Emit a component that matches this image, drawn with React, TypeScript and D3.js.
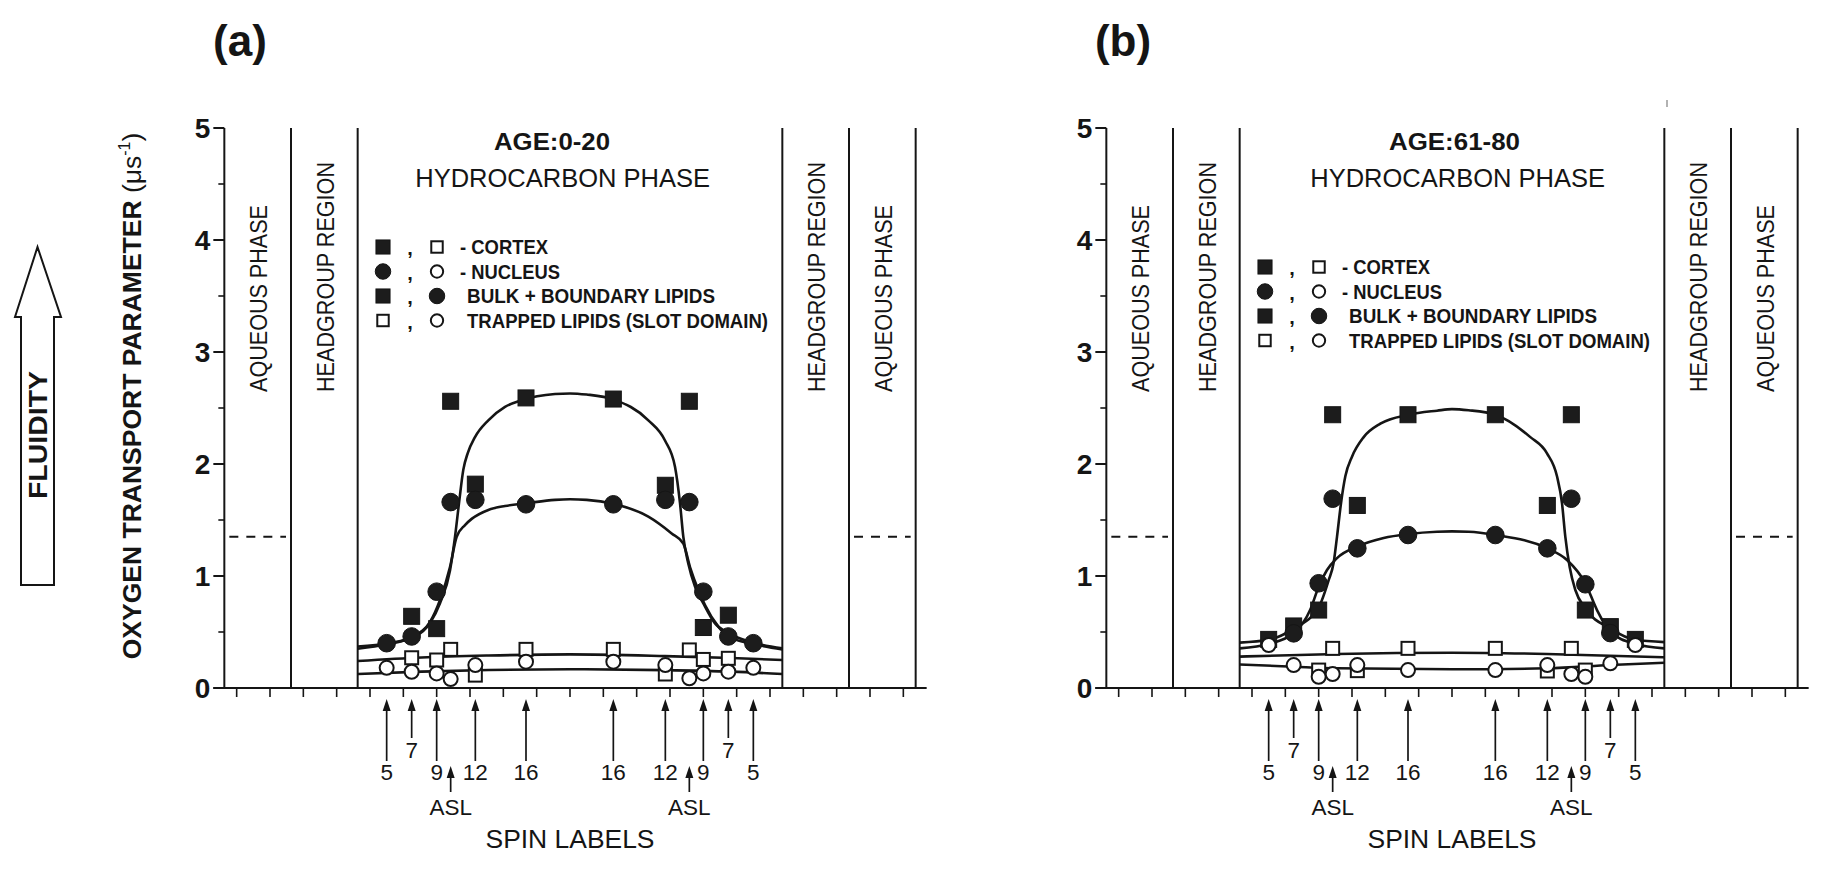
import React from 'react';
import * as d3 from 'd3';

const FONT = '"Liberation Sans", Arial, Helvetica, sans-serif';
const INK = '#151515';

// ---------- data ----------
const spinLabels = ['5', '7', '9', 'ASL', '12', '16', '16', '12', 'ASL', '9', '7', '5'];
const spinPos = [5.0, 5.75, 6.5, 6.92, 7.66, 9.18, 11.8, 13.36, 14.08, 14.5, 15.25, 16.0];

const boundaries = [0.13, 2.13, 4.13, 16.87, 18.87, 20.87];
const regionText = ['AQUEOUS PHASE', 'HEADGROUP REGION', '', 'HEADGROUP REGION', 'AQUEOUS PHASE'];
const waterLevel = 1.35;

const yMajor = [0, 1, 2, 3, 4, 5];
const yMinor = [0.5, 1.5, 2.5, 3.5, 4.5];

const legendLabels = ['- CORTEX', '- NUCLEUS', 'BULK + BOUNDARY LIPIDS', 'TRAPPED LIPIDS (SLOT DOMAIN)'];

// panel (a) AGE 0-20
const cortexBulkA = [null, 0.64, 0.53, 2.56, 1.82, 2.59, 2.58, 1.81, 2.56, 0.54, 0.65, null];
const nucleusBulkA = [0.40, 0.46, 0.86, 1.66, 1.68, 1.64, 1.64, 1.68, 1.66, 0.86, 0.46, 0.40];
const cortexTrappedA = [null, 0.27, 0.25, 0.345, 0.115, 0.345, 0.345, 0.125, 0.34, 0.255, 0.265, null];
const nucleusTrappedA = [0.18, 0.145, 0.13, 0.08, 0.205, 0.235, 0.235, 0.205, 0.087, 0.13, 0.146, 0.18];

const cortexCurveA: [number, number][] = [[4.13, 0.37], [5.05, 0.40], [5.85, 0.46], [6.3, 0.58], [6.6, 0.756], [6.9, 1.05], [7.05, 1.35], [7.17, 1.65], [7.3, 1.95], [7.43, 2.095], [7.65, 2.24], [8.05, 2.39], [8.55, 2.51], [9.05, 2.57], [10.05, 2.625], [10.5, 2.63], [11.0, 2.62], [11.8, 2.577], [12.85, 2.39], [13.35, 2.21], [13.65, 1.976], [13.8, 1.65], [13.9, 1.35], [14.05, 1.11], [14.25, 0.905], [14.5, 0.756], [14.85, 0.577], [15.25, 0.49], [16.0, 0.405], [16.87, 0.354]];
const nucleusCurveA: [number, number][] = [[4.13, 0.35], [5.0, 0.39], [5.75, 0.455], [6.3, 0.59], [6.6, 0.786], [6.9, 1.08], [7.1, 1.35], [7.35, 1.455], [7.55, 1.51], [8.05, 1.59], [8.55, 1.625], [9.2, 1.65], [10.05, 1.68], [10.5, 1.685], [11.0, 1.68], [11.8, 1.645], [12.85, 1.53], [13.55, 1.38], [13.9, 1.29], [14.1, 1.08], [14.35, 0.875], [14.55, 0.74], [14.95, 0.548], [15.25, 0.458], [16.0, 0.393], [16.87, 0.345]];
const cortexTrappedCurveA: [number, number][] = [[4.13, 0.241], [6.05, 0.273], [8.05, 0.29], [10.5, 0.30], [13.35, 0.285], [15.35, 0.268], [16.87, 0.25]];
const nucleusTrappedCurveA: [number, number][] = [[4.13, 0.125], [6.05, 0.146], [8.05, 0.161], [10.5, 0.167], [13.35, 0.16], [15.35, 0.146], [16.87, 0.125]];

// panel (b) AGE 61-80
const cortexBulkB = [0.434, 0.554, 0.696, 2.44, 1.63, 2.44, 2.44, 1.63, 2.44, 0.696, 0.548, 0.434];
const nucleusBulkB = [null, 0.488, 0.935, 1.69, 1.247, 1.366, 1.366, 1.247, 1.69, 0.926, 0.49, null];
const cortexTrappedB = [null, null, 0.16, 0.354, 0.155, 0.354, 0.354, 0.152, 0.354, 0.16, null, null];
const nucleusTrappedB = [0.384, 0.205, 0.10, 0.125, 0.205, 0.16, 0.16, 0.205, 0.125, 0.10, 0.22, 0.384];

const cortexCurveB: [number, number][] = [[4.13, 0.405], [5.0, 0.43], [5.75, 0.53], [6.5, 0.72], [6.8, 0.963], [6.95, 1.12], [7.05, 1.35], [7.17, 1.65], [7.3, 1.89], [7.5, 2.065], [7.85, 2.24], [8.35, 2.36], [9.2, 2.44], [10.05, 2.476], [10.5, 2.49], [11.0, 2.48], [11.8, 2.44], [12.85, 2.24], [13.35, 2.095], [13.65, 1.89], [13.8, 1.65], [13.9, 1.35], [14.03, 1.08], [14.2, 0.875], [14.5, 0.71], [15.25, 0.53], [16.0, 0.43], [16.87, 0.41]];
const nucleusCurveB: [number, number][] = [[4.13, 0.354], [5.0, 0.393], [5.75, 0.488], [6.25, 0.70], [6.5, 0.905], [6.75, 1.054], [7.05, 1.16], [7.67, 1.265], [8.45, 1.34], [9.2, 1.375], [10.05, 1.395], [10.5, 1.398], [11.0, 1.395], [11.8, 1.366], [13.35, 1.247], [13.95, 1.143], [14.5, 0.935], [14.85, 0.696], [15.25, 0.503], [16.0, 0.393], [16.87, 0.354]];
const cortexTrappedCurveB: [number, number][] = [[4.13, 0.28], [7.05, 0.304], [10.5, 0.315], [13.35, 0.304], [16.87, 0.274]];
const nucleusTrappedCurveB: [number, number][] = [[4.13, 0.21], [5.75, 0.19], [7.05, 0.176], [10.5, 0.167], [13.35, 0.176], [15.25, 0.205], [16.87, 0.226]];

// ---------- helpers ----------
type Num = number | null;

function Sq({ cx, cy, s, filled }: { cx: number; cy: number; s: number; filled: boolean }) {
  return (
    <rect x={cx - s / 2} y={cy - s / 2} width={s} height={s}
      fill={filled ? '#1c1c1c' : '#fff'} stroke={INK} strokeWidth={filled ? 1 : 2} />
  );
}
function Circ({ cx, cy, r, filled }: { cx: number; cy: number; r: number; filled: boolean }) {
  return <circle cx={cx} cy={cy} r={r} fill={filled ? '#1c1c1c' : '#fff'} stroke={INK} strokeWidth={filled ? 1 : 2} />;
}

interface PanelProps {
  x0: number;
  tag: string;
  tagX: number;
  age: string;
  ageEnd: number;
  ageLen: number;
  hydroEnd: number;
  legendTop: number;
  cortexBulk: Num[];
  nucleusBulk: Num[];
  cortexTrapped: Num[];
  nucleusTrapped: Num[];
  curves: [number, number][][];
}

function Panel(p: PanelProps) {
  const x = d3.scaleLinear().domain([0, 21]).range([p.x0, p.x0 + 700]);
  const y = d3.scaleLinear().domain([0, 5]).range([688, 128]);
  const line = d3.line<[number, number]>().x(d => x(d[0])).y(d => y(d[1])).curve(d3.curveMonotoneX);
  const xTicks = d3.range(0.5, 21, 1);
  const axX = x(boundaries[0]);

  const legendRows = [0, 1, 2, 3].map(i => p.legendTop + i * 24.5);
  const markerFor = (kind: string, cx: number, cy: number, legend = false) => {
    const k = legend ? 0.88 : 1;
    if (kind === 'fs') return <Sq cx={cx} cy={cy} s={16 * k} filled />;
    if (kind === 'fc') return <Circ cx={cx} cy={cy} r={8.8 * k} filled />;
    if (kind === 'os') return <Sq cx={cx} cy={cy} s={13 * k} filled={false} />;
    return <Circ cx={cx} cy={cy} r={7 * k} filled={false} />;
  };
  const legendKinds = [['fs', 'os'], ['fc', 'oc'], ['fs', 'fc'], ['os', 'oc']];
  const legendTextX = [240, 240, 247, 247];
  const legendLen = [88, 100, 248, 301];

  const series: [string, Num[]][] = [
    ['fs', p.cortexBulk],
    ['fc', p.nucleusBulk],
    ['os', p.cortexTrapped],
    ['oc', p.nucleusTrapped],
  ];

  return (
    <g>
      {/* title */}
      <text x={p.tagX} y={56} textAnchor="middle" fontSize={44} fontWeight="bold" fill={INK}>{p.tag}</text>

      {/* region boundary lines */}
      {boundaries.slice(1).map((b, i) => (
        <line key={'b' + i} x1={x(b)} x2={x(b)} y1={y(0)} y2={y(5)} stroke={INK} strokeWidth={2} />
      ))}

      {/* y axis */}
      <line x1={axX} x2={axX} y1={y(0)} y2={y(5)} stroke={INK} strokeWidth={2} />
      {yMajor.map(v => (
        <g key={'ym' + v}>
          <line x1={axX - 11} x2={axX} y1={y(v)} y2={y(v)} stroke={INK} strokeWidth={2} />
          <text x={axX - 14} y={y(v)} dy="0.36em" textAnchor="end" fontSize={28} fontWeight="bold" fill={INK}>{v}</text>
        </g>
      ))}
      {yMinor.map(v => (
        <line key={'yn' + v} x1={axX - 6} x2={axX} y1={y(v)} y2={y(v)} stroke={INK} strokeWidth={1.6} />
      ))}

      {/* x axis */}
      <line x1={axX - 11} x2={x(21.2)} y1={y(0)} y2={y(0)} stroke={INK} strokeWidth={2} />
      {xTicks.map(t => (
        <line key={'xt' + t} x1={x(t)} x2={x(t)} y1={y(0)} y2={y(0) + 9} stroke={INK} strokeWidth={1.6} />
      ))}

      {/* dashed aqueous level */}
      {[[0, 1], [4, 5]].map(([a, b], i) => (
        <line key={'d' + i} x1={x(boundaries[a]) + 5} x2={x(boundaries[b]) - 5} y1={y(waterLevel)} y2={y(waterLevel)}
          stroke={INK} strokeWidth={2} strokeDasharray="9,8" />
      ))}

      {/* region labels */}
      {regionText.map((t, i) => {
        if (!t) return null;
        const cx = (x(boundaries[i]) + x(boundaries[i + 1])) / 2 + 9.5;
        return (
          <text key={'r' + i} transform={`translate(${cx},392) rotate(-90)`} textAnchor="start"
            fontSize={24} fill={INK} textLength={t.startsWith('AQ') ? 187 : 230} lengthAdjust="spacingAndGlyphs">{t}</text>
        );
      })}

      {/* hydrocarbon titles */}
      <text x={p.ageEnd} y={150} textAnchor="end" fontSize={24.5} fontWeight="bold" fill={INK}
        textLength={p.ageLen} lengthAdjust="spacingAndGlyphs">{p.age}</text>
      <text x={p.hydroEnd} y={187} textAnchor="end" fontSize={25.5} fill={INK}>HYDROCARBON PHASE</text>

      {/* legend */}
      {legendRows.map((ry, i) => (
        <g key={'lg' + i}>
          {markerFor(legendKinds[i][0], p.x0 + 163, ry, true)}
          <text x={p.x0 + 190} y={ry + 8} textAnchor="middle" fontSize={20} fontWeight="bold" fill={INK}>,</text>
          {markerFor(legendKinds[i][1], p.x0 + 217, ry, true)}
          <text x={p.x0 + legendTextX[i]} y={ry + 7} fontSize={20} fontWeight="bold" fill={INK}
            textLength={legendLen[i]} lengthAdjust="spacingAndGlyphs">{legendLabels[i]}</text>
        </g>
      ))}

      {/* curves */}
      {p.curves.map((c, i) => (
        <path key={'c' + i} d={line(c) || ''} fill="none" stroke={INK} strokeWidth={2.6} />
      ))}

      {/* markers */}
      {series.map(([kind, vals]) => (
        <g key={'s' + kind}>
          {vals.map((v, i) => (v == null ? null : <g key={i}>{markerFor(kind, x(spinPos[i]), y(v))}</g>))}
        </g>
      ))}

      {/* spin label arrows */}
      {spinLabels.map((lab, i) => {
        const ax = x(spinPos[i]);
        let tip = 699, bottom = 761, base = 780;
        if (lab === '7') { bottom = 738; base = 758; }
        if (lab === 'ASL') { tip = 766; bottom = 792; base = 815; }
        return (
          <g key={'sp' + i}>
            <line x1={ax} x2={ax} y1={tip + 9} y2={bottom} stroke={INK} strokeWidth={1.7} />
            <path d={`M${ax},${tip} L${ax - 4},${tip + 12} L${ax + 4},${tip + 12} Z`} fill={INK} />
            <text x={ax} y={base} textAnchor="middle" fontSize={22.5} fill={INK}>{lab}</text>
          </g>
        );
      })}
      <text x={x(10.5)} y={848} textAnchor="middle" fontSize={25.5} fill={INK}
        textLength={169} lengthAdjust="spacingAndGlyphs">SPIN LABELS</text>
    </g>
  );
}

export default function App() {
  return (
    <svg width={1821} height={870} viewBox="0 0 1821 870"
      style={{ position: 'absolute', left: 0, top: 0, background: '#fff' }}
      fontFamily={FONT}>
      <rect x={0} y={0} width={1821} height={870} fill="#fff" />

      {/* fluidity arrow */}
      <path d="M21,585 L21,317 L15,317 L37.5,247 L61,317 L54,317 L54,585 Z" fill="#fff" stroke={INK} strokeWidth={2} />
      <text transform="translate(46.5,435) rotate(-90)" textAnchor="middle" fontSize={25} fontWeight="bold" fill={INK}
        textLength={128} lengthAdjust="spacingAndGlyphs">FLUIDITY</text>

      {/* y axis title */}
      <text transform="translate(141,396) rotate(-90)" textAnchor="middle" fontSize={26.5} fontWeight="bold" fill={INK}>
        OXYGEN TRANSPORT PARAMETER <tspan fontWeight="normal">(μs</tspan>
        <tspan fontWeight="normal" fontSize={16} dy={-11}>-1</tspan>
        <tspan fontWeight="normal" dy={11}>)</tspan>
      </text>

      <Panel x0={220} tag="(a)" tagX={240} age="AGE:0-20" ageEnd={610} ageLen={116} hydroEnd={710} legendTop={247}
        cortexBulk={cortexBulkA} nucleusBulk={nucleusBulkA} cortexTrapped={cortexTrappedA} nucleusTrapped={nucleusTrappedA}
        curves={[cortexTrappedCurveA, nucleusTrappedCurveA, nucleusCurveA, cortexCurveA]} />
      <Panel x0={1102} tag="(b)" tagX={1123} age="AGE:61-80" ageEnd={1520} ageLen={131} hydroEnd={1605} legendTop={267}
        cortexBulk={cortexBulkB} nucleusBulk={nucleusBulkB} cortexTrapped={cortexTrappedB} nucleusTrapped={nucleusTrappedB}
        curves={[cortexTrappedCurveB, nucleusTrappedCurveB, nucleusCurveB, cortexCurveB]} />

      {/* small stray mark in the original scan */}
      <line x1={1667} x2={1667} y1={100} y2={107} stroke="#999" strokeWidth={1.5} />
    </svg>
  );
}
